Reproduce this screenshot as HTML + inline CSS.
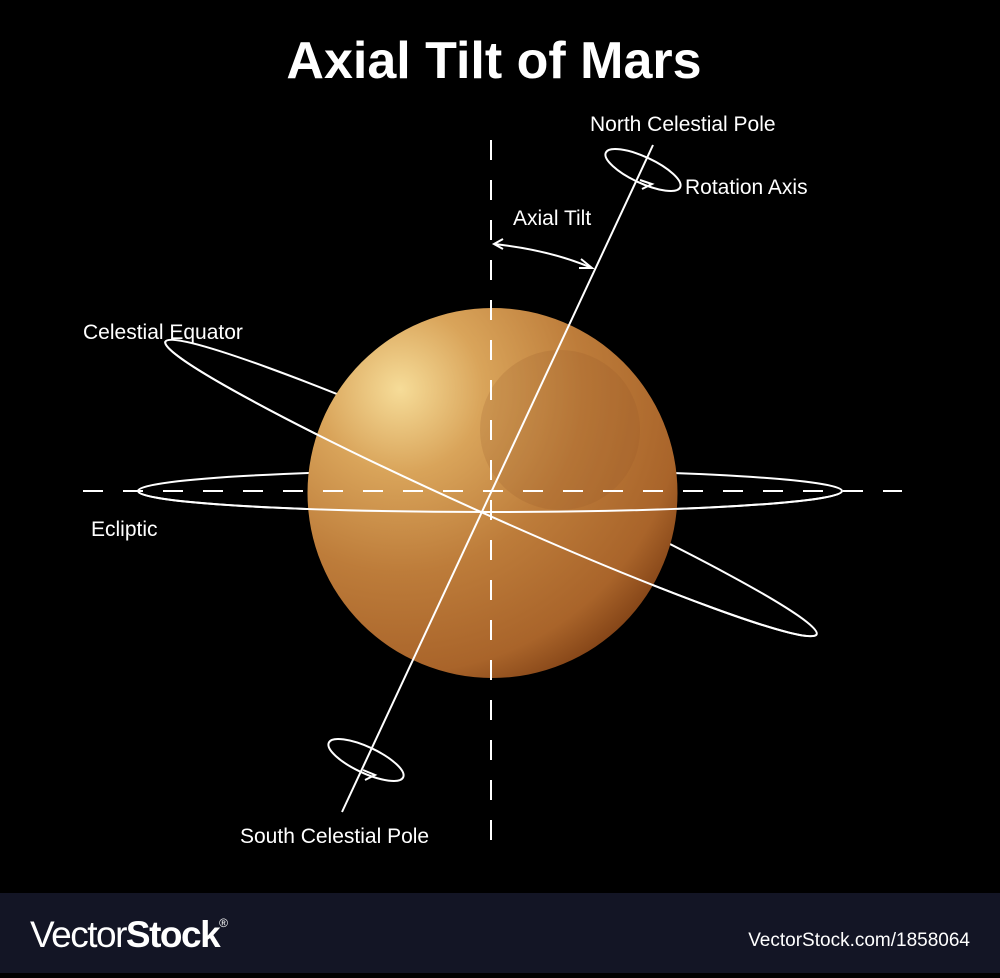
<!DOCTYPE html>
<html><head><style>
html,body{margin:0;padding:0;background:#000;}
body{width:1000px;height:973px;position:relative;overflow:hidden;font-family:"Liberation Sans",sans-serif;}
</style></head><body>
<svg width="1000" height="973" viewBox="0 0 1000 973" xmlns="http://www.w3.org/2000/svg">
<defs>
<radialGradient id="pg" cx="0.25" cy="0.22" r="0.9">
<stop offset="0" stop-color="#f6dc98"/>
<stop offset="0.25" stop-color="#d9a45a"/>
<stop offset="0.55" stop-color="#bd7c3a"/>
<stop offset="0.85" stop-color="#a9642a"/>
<stop offset="1" stop-color="#7e3f14"/>
</radialGradient>
</defs>
<rect width="1000" height="893" fill="#000"/>
<rect y="893" width="1000" height="80" fill="#131525"/>
<text x="494" y="78" text-anchor="middle" fill="#fff" font-size="52" font-weight="bold">Axial Tilt of Mars</text>
<ellipse cx="490" cy="491" rx="352" ry="21" fill="none" stroke="#fff" stroke-width="2"/>
<g transform="rotate(24.2 491 488)">
<ellipse cx="491" cy="488" rx="357" ry="26" fill="none" stroke="#fff" stroke-width="2"/>
</g>
<circle cx="492.5" cy="493" r="185" fill="url(#pg)"/>
<circle cx="560" cy="430" r="80" fill="#8e5426" opacity="0.18"/>
<path d="M138,491 A352,21 0 0 0 842,491" fill="none" stroke="#fff" stroke-width="2"/>
<g transform="rotate(24.2 491 488)">
<path d="M134,488 A357,26 0 0 0 848,488" fill="none" stroke="#fff" stroke-width="2"/>
</g>
<line x1="491" y1="140" x2="491" y2="845" stroke="#fff" stroke-width="2" stroke-dasharray="20,20"/>
<line x1="83" y1="491" x2="902" y2="491" stroke="#fff" stroke-width="2" stroke-dasharray="20,20"/>
<line x1="653" y1="145" x2="342" y2="812" stroke="#fff" stroke-width="2"/>
<g transform="rotate(25 643 170)"><ellipse cx="643" cy="170" rx="41" ry="13" fill="none" stroke="#fff" stroke-width="2"/></g>
<path d="M640,180 L652,184 L642,189" fill="none" stroke="#fff" stroke-width="2"/>
<g transform="rotate(25 366 760)"><ellipse cx="366" cy="760" rx="41" ry="13" fill="none" stroke="#fff" stroke-width="2"/></g>
<path d="M363,770 L375,775 L365,780" fill="none" stroke="#fff" stroke-width="2"/>
<path d="M494,244 Q550,250 592,268" fill="none" stroke="#fff" stroke-width="2"/>
<path d="M503,239 L494,244 L503,249" fill="none" stroke="#fff" stroke-width="2"/>
<path d="M581,259 L592,268 L579,268" fill="none" stroke="#fff" stroke-width="2"/>
<g fill="#fff" font-size="21">
<text x="590" y="131">North Celestial Pole</text>
<text x="685" y="194">Rotation Axis</text>
<text x="513" y="225">Axial Tilt</text>
<text x="83" y="339">Celestial Equator</text>
<text x="91" y="536">Ecliptic</text>
<text x="240" y="843">South Celestial Pole</text>
</g>
<text x="30" y="947" fill="#fff" font-size="37" letter-spacing="-1.5"><tspan>Vector</tspan><tspan font-weight="bold">Stock</tspan><tspan font-size="12" dy="-20">®</tspan></text>
<text x="970" y="946" text-anchor="end" fill="#fff" font-size="19">VectorStock.com/1858064</text>
</svg>
</body></html>
